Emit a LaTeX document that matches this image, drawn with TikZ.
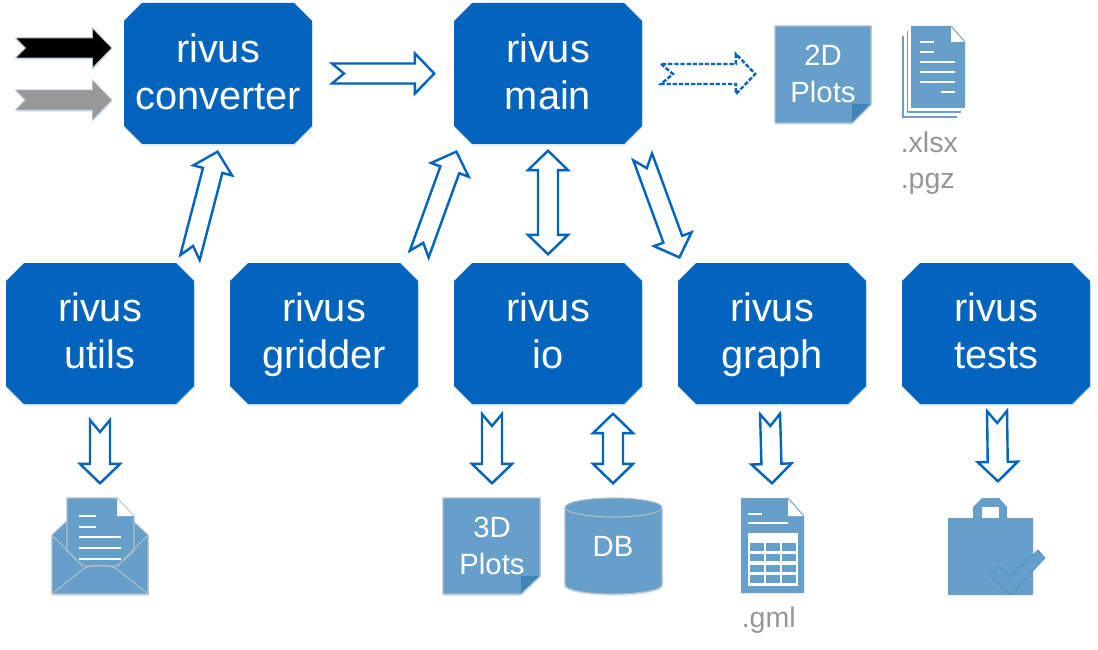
\documentclass[tikz,border=0pt]{standalone}
\usepackage{fontspec}
\setmainfont{Liberation Sans}
\usetikzlibrary{calc,shadows}
\definecolor{boxblue}{RGB}{3,100,190}
\definecolor{iconblue}{RGB}{102,159,201}
\definecolor{folddark}{RGB}{64,133,182}
\definecolor{iconedge}{RGB}{176,188,200}
\definecolor{graytext}{RGB}{150,150,150}
\definecolor{glow}{RGB}{150,190,230}
\tikzset{
  softshadow/.style={drop shadow={shadow xshift=0.4pt,shadow yshift=-1.5pt,fill=glow,opacity=.3}},
  modulefill/.style={fill=boxblue,softshadow},
  modulebox/.style={rectangle,minimum width=141pt,minimum height=105.75pt,inner sep=0pt,outer sep=0pt,text=white,
    align=center,font=\fontsize{29.8}{35.25}\selectfont},
  blockline/.style={draw=boxblue,fill=white,line width=1.8pt,miter limit=10,softshadow},
  dashblock/.style={draw=boxblue,fill=white,line width=1.8pt,dash pattern=on 3.2pt off 1.4pt},
  blackblock/.style={draw=iconedge,fill=black,line width=.6pt,softshadow},
  grayblock/.style={draw=iconedge,fill=gray!80,line width=.6pt,softshadow},
  iconshape/.style={fill=iconblue,draw=iconedge,line width=.8pt,softshadow},
  plainicon/.style={fill=iconblue,draw=none},
  iconlabel/.style={text=white,align=center,inner sep=0pt,font=\fontsize{22}{27.7}\selectfont},
  filelabel/.style={text=graytext,anchor=base west,inner sep=0pt,font=\fontsize{21.4}{26}\selectfont},
  whiteline/.style={draw=white,line width=1.5pt},
  envline/.style={draw=iconedge,line width=.8pt},
}
% #1 name, #2 x, #3 y, #4 text offset, #5 first line, #6 second line
\newcommand{\modulebox}[6]{%
  \fill[modulefill,shift={(#2,#3)}] (-76,-70.5) -- (76,-70.5) -- (94,-52.5) -- (94,52.5) -- (76,70.5)
    -- (-76,70.5) -- (-94,52.5) -- (-94,-52.5) -- cycle;
  \node[modulebox] (#1) at (#2,#3+#4) {#5\\#6\vphantom{g}};
}
% #1 style, #2 tail, #3 tip, #4 notch depth; the ends are pulled in by the mitre of the outline
\newcommand{\blockarrow}[4][blockline]{%
  \path coordinate (ta) at ($(#2)!1.5pt!(#3)$) coordinate (ti) at ($(#3)!1.3pt!(#2)$);
  \path coordinate (hd) at ($(ti)!14.5pt!(ta)$);
  \draw[#1] ($(ta)!7.5pt!90:(ti)$) -- ($(ta)!#4!(ti)$) -- ($(ta)!7.5pt!-90:(ti)$)
    -- ($(hd)!7.5pt!-90:(ti)$) -- ($(hd)!15pt!-90:(ti)$) -- (ti)
    -- ($(hd)!15pt!90:(ti)$) -- ($(hd)!7.5pt!90:(ti)$) -- cycle;
}
\newcommand{\doublearrow}[3][blockline]{%
  \path coordinate (ta) at ($(#2)!1.3pt!(#3)$) coordinate (ti) at ($(#3)!1.3pt!(#2)$);
  \path coordinate (ha) at ($(ta)!14.5pt!(ti)$) coordinate (hb) at ($(ti)!14.5pt!(ta)$);
  \draw[#1] (ta) -- ($(ha)!15pt!90:(ti)$) -- ($(ha)!7.5pt!90:(ti)$) -- ($(hb)!7.5pt!90:(ti)$)
    -- ($(hb)!15pt!90:(ti)$) -- (ti) -- ($(hb)!15pt!-90:(ti)$) -- ($(hb)!7.5pt!-90:(ti)$)
    -- ($(ha)!7.5pt!-90:(ti)$) -- ($(ha)!15pt!-90:(ti)$) -- cycle;
}
\begin{document}
\begin{tikzpicture}[x=0.75pt,y=-0.75pt]
\useasboundingbox (0,0) rectangle (1098,649);
\fill[white] (0,0) rectangle (1098,649);

% module boxes
\modulebox{converter}{218}{73.5}{2.5}{rivus}{converter}
\modulebox{main}{548}{73.5}{2.5}{rivus}{main}
\modulebox{utils}{100}{333.5}{1}{rivus}{utils}
\modulebox{gridder}{324}{333.5}{1}{rivus}{gridder}
\modulebox{io}{548}{333.5}{1}{rivus}{io}
\modulebox{graph}{772}{333.5}{1}{rivus}{graph}
\modulebox{tests}{996}{333.5}{1}{rivus}{tests}

% connector end points
\coordinate (blackT) at (13.5,48);  \coordinate (blackH) at (113.5,48);
\coordinate (grayT) at (13.5,100);  \coordinate (grayH) at (113.5,100);
\coordinate (convOut) at (330,73.5);\coordinate (mainIn) at (436,73.5);
\coordinate (utilsOut) at (189.5,259.5); \coordinate (convIn) at (218,150);
\coordinate (gridOut) at (418.5,256);    \coordinate (mainInB) at (457,150);
\coordinate (mainS) at (548,149);   \coordinate (ioN) at (548,256);
\coordinate (mainOutB) at (642,155);\coordinate (graphIn) at (680,259);
\coordinate (mainOut) at (659,74);  \coordinate (plotIn) at (757,74);
\coordinate (utilsS) at (100,418);  \coordinate (mailIn) at (100,485);
\coordinate (ioS) at (492,412);     \coordinate (plot3In) at (492,485);
\coordinate (ioSb) at (613,412);    \coordinate (dbN) at (613,485);
\coordinate (graphS) at (770,412);  \coordinate (sheetIn) at (772,485);
\coordinate (testsS) at (997,409);  \coordinate (bagIn) at (998,483);

\blockarrow[blackblock]{blackT}{blackH}{7.5pt}
\blockarrow[grayblock]{grayT}{grayH}{7.5pt}
\blockarrow{convOut}{mainIn}{9pt}
\blockarrow{utilsOut}{convIn}{9pt}
\blockarrow{gridOut}{mainInB}{9pt}
\doublearrow{mainS}{ioN}
\blockarrow{mainOutB}{graphIn}{9pt}
\blockarrow[dashblock]{mainOut}{plotIn}{9pt}
\blockarrow{utilsS}{mailIn}{9pt}
\blockarrow{ioS}{plot3In}{9pt}
\doublearrow{ioSb}{dbN}
\blockarrow{graphS}{sheetIn}{9pt}
\blockarrow{testsS}{bagIn}{9pt}

% 2D plots note
\draw[iconshape] (775,26) -- (871,26) -- (871,104) -- (852,123) -- (775,123) -- cycle;
\fill[folddark] (852,104) -- (870,104) -- (852,122) -- cycle;
\node[iconlabel] (plots2) at (823,73.5) {2D\\Plots};

% document stack
\fill[iconblue] (902,36) rectangle (957,118);
\fill[white] (903.5,36) rectangle (957,116.5);
\fill[iconblue] (906.5,31) rectangle (961,113);
\fill[white] (908,31) rectangle (961,111.5);
\fill[iconblue] (911,26) -- (951,26) -- (965,42) -- (965,108) -- (911,108) -- cycle;
\fill[white] (951,26.5) -- (951,42) -- (964.5,42) -- cycle;
\draw[iconblue,line width=.6pt] (951,26) -- (965,42);
\draw[whiteline] (920,42) -- (934,42) (920,52) -- (934,52)
  (920,62) -- (955,62) (920,72) -- (955,72) (920,82) -- (955,82) (941,92) -- (955,92);
\node[filelabel] (xlsx) at (900.5,152) {.xlsx};
\node[filelabel] (pgz) at (900.5,188) {.pgz};

% envelope
\draw[iconshape] (52,535) -- (67,521) -- (133,521) -- (148,535) -- (148,594) -- (52,594) -- cycle;
\draw[fill=iconblue,draw=iconedge,line width=.8pt] (67,498) -- (117,498) -- (134,516) -- (134,551) -- (117,566) -- (83,566) -- (67,551) -- cycle;
\fill[white] (117,498.5) -- (117,516) -- (133.5,516) -- cycle;
\draw[whiteline] (79,516) -- (96,516) (79,527) -- (96,527) (79,537) -- (121,537) (79,548) -- (121,548) (79,559) -- (121,559);
\draw[envline] (52,535) -- (83,566) (148,535) -- (117,566)
  (52,594) -- (83,569) .. controls (92,564) and (108,564) .. (117,569) -- (148,594);

% 3D plots note
\draw[iconshape] (443,498) -- (540,498) -- (540,576) -- (521,594) -- (443,594) -- cycle;
\fill[folddark] (521,576) -- (539,576) -- (521,593) -- cycle;
\node[iconlabel] (plots3) at (492,546) {3D\\Plots};

% database cylinder
\draw[iconshape] (565,507.5) arc[start angle=180,end angle=360,x radius=48.5,y radius=9.5]
  -- (662,585) arc[start angle=0,end angle=180,x radius=48.5,y radius=9] -- cycle;
\draw[envline] (565,507.5) arc[start angle=180,end angle=0,x radius=48.5,y radius=9.5];
\node[iconlabel] (db) at (613,546) {DB};

% spreadsheet
\fill[iconblue] (741,498) -- (788,498) -- (804,516) -- (804,593) -- (741,593) -- cycle;
\fill[white] (788,498.5) -- (788,516) -- (803.5,516) -- cycle;
\draw[iconblue,line width=.6pt] (788,498) -- (804,516);
\draw[whiteline] (748,514) -- (762,514) (748,523) -- (788,523);
\fill[white] (748,533) rectangle (798,586);
\foreach \cx in {750,766,782}
  \foreach \cy/\cz in {543/551,554/561,565/572,575/583}
    \fill[iconblue] (\cx,\cy) rectangle (\cx+13.5,\cz);
\node[filelabel] (gml) at (741.5,627) {.gml};

% bag with tick
\fill[plainicon] (948,518) -- (973,518) -- (973,507) -- (982,498) -- (999,498) -- (1007,507) -- (1007,518)
  -- (1033,518) -- (1033,595) -- (948,595) -- cycle;
\fill[white] (982,507) rectangle (999,518);
\draw[fill=iconblue,draw=folddark!70!iconblue,line width=.5pt] (1038,550) -- (1045,558) -- (1010,595) -- (990,575) -- (999,566) -- (1010,577) -- cycle;
\end{tikzpicture}
\end{document}
